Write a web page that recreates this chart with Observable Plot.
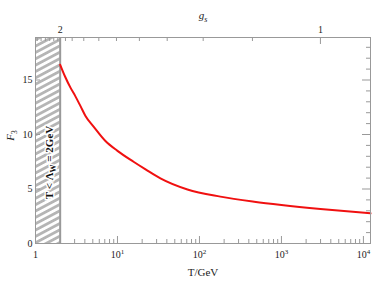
<!DOCTYPE html>
<html><head><meta charset="utf-8">
<script src="https://cdn.jsdelivr.net/npm/d3@7"></script>
<script src="https://cdn.jsdelivr.net/npm/@observablehq/plot@0.6"></script>
<style>body{margin:0;background:#fff}</style>
</head><body><div id="chart"></div>
<script>
// Curve F3(T)
const T = [2, 2.3, 2.67, 3.07, 3.54, 4.07, 5.14, 7.13, 10, 15.7, 22, 33.4, 71.4, 180, 465, 1000, 2990, 12200];
const F = [16.4, 15.3, 14.3, 13.5, 12.6, 11.7, 10.7, 9.4, 8.5, 7.5, 6.8, 5.97, 4.95, 4.3, 3.84, 3.54, 3.17, 2.77];
const lambdaW = 2;
// Bottom axis
const xMajor = [1, 10, 100, 1000, 10000];
const decades = [1, 10, 100, 1000, 10000];
const mult = [2, 3, 4, 5, 6, 7, 8, 9];
// Left/right axes
const yMajor = [0, 5, 10, 15];
const yMinor = [1, 2, 3, 4, 6, 7, 8, 9, 11, 12, 13, 14, 16, 17, 18];
// Top axis: g_s values and the temperatures where they occur
const gsMinorT = [1.05, 1.17, 1.32, 1.49, 1.67, 1.87, 2.32, 2.8, 3.88, 5.92, 9.72, 18.5, 40.4, 111, 443];
const gsMajorT = [2, 2990];
const gsMajorLabels = ["2", "1"];

const xMax = 12200, yMax = 18.9;
const data = T.map((t, i) => ({T: t, F: F[i]}));
const xMinor = decades.flatMap(d => mult.map(m => d * m)).filter(v => v <= xMax);
const gsMajor = gsMajorT.map((t, i) => ({T: t, label: gsMajorLabels[i]}));

const W = 374, H = 284, mL = 35, mR = 4, mT = 37, mB = 41;
const fw = W - mL - mR, fh = H - mT - mB;
const grey = "#999";

const plot = Plot.plot({
  width: W, height: H,
  marginLeft: mL, marginRight: mR, marginTop: mT, marginBottom: mB,
  x: {type: "log", domain: [1, xMax]},
  y: {domain: [0, yMax]},
  style: {fontFamily: "Liberation Serif", fontSize: "10px", background: "white", color: "#222"},
  marks: [
    Plot.rect([0], {x1: () => 1, x2: () => lambdaW, fill: "url(#hatch)"}),
    Plot.ruleX([lambdaW], {stroke: grey, strokeWidth: 2}),
    Plot.line(data, {x: "T", y: "F", stroke: "#f01010", strokeWidth: 2, curve: "monotone-x"}),
    Plot.ruleX(xMinor, {stroke: grey, insetTop: fh - 4}),
    Plot.ruleX(xMajor, {stroke: grey, insetTop: fh - 7}),
    Plot.ruleX(gsMinorT, {stroke: grey, insetBottom: fh - 4}),
    Plot.ruleX(gsMajorT, {stroke: grey, insetBottom: fh - 7}),
    Plot.ruleY(yMajor, {stroke: grey, insetRight: fw - 5}),
    Plot.ruleY(yMinor, {stroke: grey, insetLeft: fw - 4}),
    Plot.ruleY(yMajor, {stroke: grey, insetLeft: fw - 8}),
    Plot.frame({stroke: grey}),
    Plot.axisX(xMajor, {tickSize: 0, tickPadding: 7, label: null, fill: "#222",
      tickFormat: d => d === 1 ? "1" : "10^" + Math.round(Math.log10(d))}),
    Plot.text(gsMajor, {x: "T", text: "label", frameAnchor: "top", lineAnchor: "bottom", dy: -5, fill: "#222"}),
    Plot.axisY(yMajor, {tickSize: 0, tickPadding: 3, label: null, fill: "#222"}),
    Plot.text(["F_3"], {frameAnchor: "left", textAnchor: "middle", dx: -25, dy: -5, rotate: -90, fontSize: 11, fill: "#222"}),
    Plot.text(["g_s"], {frameAnchor: "top", dx: 0, dy: -26, fontSize: 11, fill: "#222"}),
    Plot.text(["T/GeV"], {frameAnchor: "bottom", dy: 32, fontSize: 11, fill: "#222"}),
    Plot.text(["T < Λ_W = 2GeV"], {frameAnchor: "left", textAnchor: "middle", dx: 14, dy: 22, rotate: -90, fontSize: 11,
      fontWeight: "bold", fill: "#111", stroke: "white", strokeWidth: 3})
  ]
});

const svg = d3.select(plot);
const pat = svg.insert("defs", ":first-child").append("pattern")
  .attr("id", "hatch").attr("patternUnits", "userSpaceOnUse")
  .attr("width", 10).attr("height", 5.6)
  .attr("patternTransform", "rotate(-28)");
pat.append("rect").attr("width", 10).attr("height", 5.6).attr("fill", "white");
pat.append("rect").attr("width", 10).attr("height", 2.8).attr("fill", "#b5b5b5");

// sub/superscripts
svg.selectAll("text").each(function() {
  const el = d3.select(this);
  const s = this.textContent;
  const m = s.match(/^(.*?)([_^])(\S)(.*)$/);
  if (!m) return;
  const [, base, kind, scr, rest] = m;
  el.text(null);
  const italic = base === "F" || base === "g";
  el.append("tspan").attr("font-style", italic ? "italic" : null).text(base);
  const shift = kind === "^" ? -4 : 3;
  el.append("tspan").attr("dy", shift).attr("font-size", kind === "^" ? 7 : 8)
    .attr("font-style", base === "g" ? "italic" : null).text(scr);
  if (rest) el.append("tspan").attr("dy", -shift).text(rest);
});

document.getElementById("chart").append(plot);
</script></body></html>
